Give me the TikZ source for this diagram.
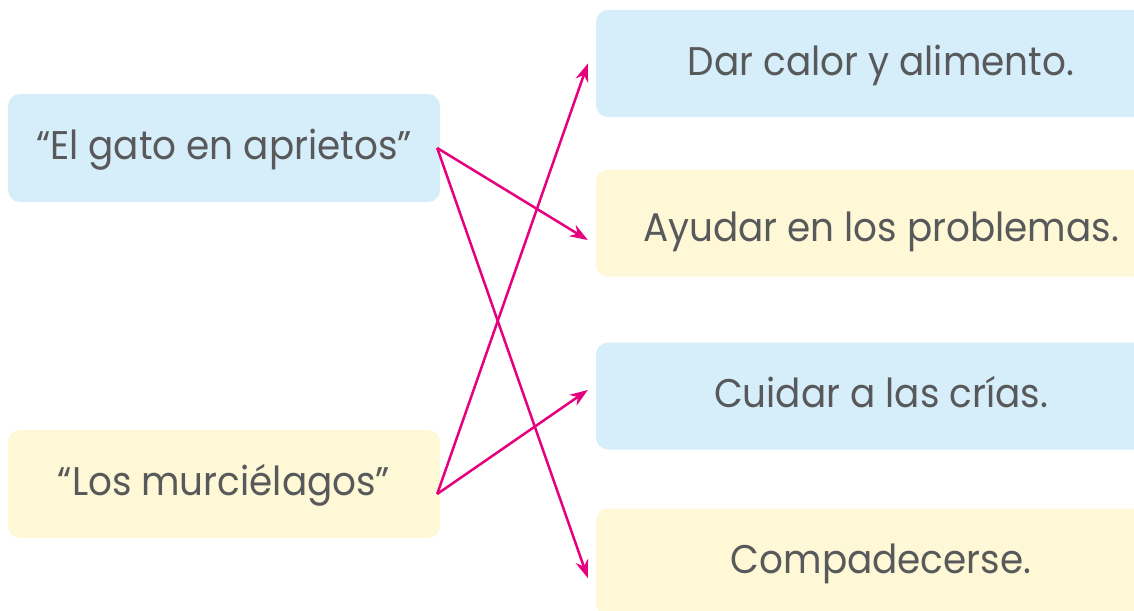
\documentclass[tikz,border=0pt]{standalone}
\usepackage{fontspec}
\setmainfont[FakeStretch=0.934]{Poppins}
\usepackage{xcolor}
\usetikzlibrary{arrows.meta}

\definecolor{celeste}{HTML}{D6EDFA}
\definecolor{crema}{HTML}{FFF8D6}
\definecolor{gristexto}{HTML}{58595B}
\definecolor{magenta}{HTML}{E6007E}

\begin{document}
\begin{tikzpicture}[x=1pt,y=-1pt,
    caja/.style={rounded corners=12pt, inner sep=0pt, text=gristexto,
      text height=32pt, text depth=9pt,
      font=\fontsize{40}{44}\selectfont},
    izq/.style={caja, minimum width=432pt, minimum height=108pt},
    der/.style={caja, minimum width=570pt, minimum height=107pt},
    flecha/.style={magenta, line width=2.5pt, -{Stealth[length=18pt,width=13pt]}}]
  \useasboundingbox (0,0) rectangle (1134,610);

  %Shape: left boxes
  \node [izq, fill=celeste] (gato) at (224,148) {“El gato en aprietos”};
  \node [izq, fill=crema] (murcielagos) at (224,484) {“Los murciélagos”};

  %Shape: right boxes
  \node [der, fill=celeste] (calor) at (881,63.5) {Dar calor y alimento.};
  \node [der, fill=crema, text height=40pt, text depth=3pt] (ayudar) at (881,223) {Ayudar en los problemas.};
  \node [der, fill=celeste] (cuidar) at (881,396) {Cuidar a las crías.};
  \node [der, fill=crema] (compadecerse) at (881,562) {Compadecerse.};

  % Arrows
  \draw [flecha] ([xshift=-3pt]gato.east) -- ([xshift=-8pt,yshift=-17pt]ayudar.west);
  \draw [flecha] ([xshift=-3pt]gato.east) -- ([xshift=-8pt,yshift=-16pt]compadecerse.west);
  \draw [flecha] ([xshift=-3pt,yshift=-10pt]murcielagos.east) -- ([xshift=-8pt]calor.west);
  \draw [flecha] ([xshift=-3pt,yshift=-10pt]murcielagos.east) -- ([xshift=-8pt,yshift=6pt]cuidar.west);
\end{tikzpicture}
\end{document}
